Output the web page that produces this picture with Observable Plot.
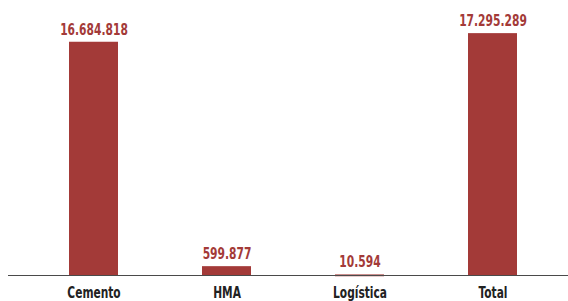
<!DOCTYPE html>
<html>
<head>
<meta charset="utf-8">
<script src="https://cdn.jsdelivr.net/npm/d3@7"></script>
<script src="https://cdn.jsdelivr.net/npm/@observablehq/plot@0.6"></script>
<style>
  html, body { margin: 0; padding: 0; background: #fff; }
  svg { display: block; }
</style>
</head>
<body>
<div id="chart"></div>
<script>
const categories = ["Cemento", "HMA", "Logística", "Total"];
const values = [16684818, 599877, 10594, 17295289];
const valueLabels = ["16.684.818", "599.877", "10.594", "17.295.289"];

const data = categories.map((c, i) => ({category: c, value: values[i], label: valueLabels[i]}));

const font = "'DejaVu Sans Condensed', 'DejaVu Sans', sans-serif";
const barColor = "#a33a38";

const chart = Plot.plot({
  width: 568,
  height: 301,
  marginTop: 33.5,
  marginBottom: 26,
  marginLeft: 8,
  marginRight: 0,
  style: {fontFamily: font, background: "#fff"},
  x: {domain: categories, range: [25.8, 559.2], paddingInner: 0.632, paddingOuter: 0.316, label: null},
  y: {domain: [0, 17295289], axis: null},
  marks: [
    Plot.barY(data, {x: "category", y: "value", fill: barColor}),
    Plot.tickY(data, {x: "category", y: "value", stroke: barColor, strokeWidth: 1.6}),
    Plot.ruleY([0], {stroke: "#4a4a4a", strokeWidth: 1}),
    Plot.text(data, {x: "category", y: "value", text: "label", dy: -8, lineAnchor: "bottom",
      fill: barColor, fontSize: 16, fontWeight: "bold", fontFamily: font, className: "vlabel"}),
    Plot.axisX({tickSize: 0, tickPadding: 11, fontSize: 15.5, fontWeight: "bold", fill: "#222", label: null, fontFamily: font, className: "xlabel"})
  ]
});
document.getElementById("chart").append(chart);

// condense the text to mimic a condensed bold face
function condense(selector, refText, targetWidth) {
  const texts = Array.from(chart.querySelectorAll(selector + " text"));
  const ref = texts.find(t => t.textContent === refText);
  if (!ref) return;
  const factor = targetWidth / ref.getComputedTextLength();
  texts.forEach(t => {
    const len = t.getComputedTextLength();
    t.setAttribute("textLength", (len * factor).toFixed(2));
    t.setAttribute("lengthAdjust", "spacingAndGlyphs");
  });
}
condense(".vlabel", "16.684.818", 67.7);
condense(".xlabel", "Cemento", 53.3);
</script>
</body>
</html>
